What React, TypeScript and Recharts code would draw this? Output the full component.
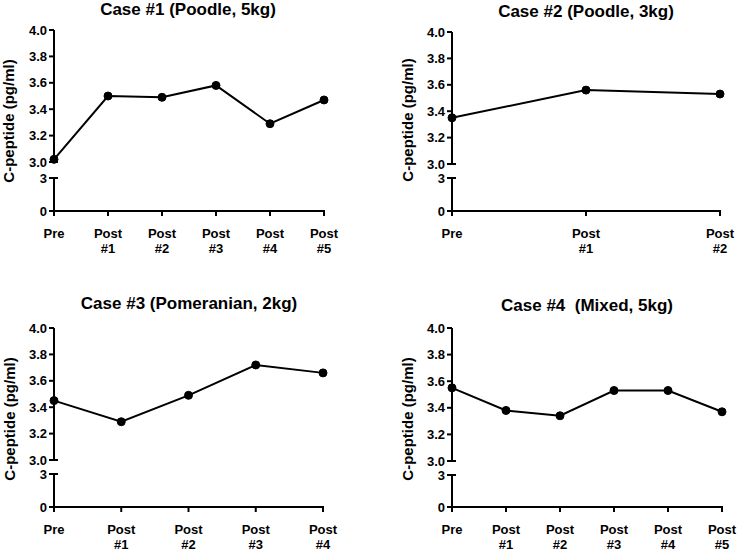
import React from "react";
import { LineChart, Line, XAxis, YAxis } from "recharts";

const labelsFive = ["Pre", "Post #1", "Post #2", "Post #3", "Post #4", "Post #5"];
const labelsTwo = ["Pre", "Post #1", "Post #2"];
const labelsFour = ["Pre", "Post #1", "Post #2", "Post #3", "Post #4"];

const case1Values = [3.02, 3.5, 3.49, 3.58, 3.29, 3.47];
const case2Values = [3.35, 3.56, 3.53];
const case3Values = [3.45, 3.29, 3.49, 3.72, 3.66];
const case4Values = [3.55, 3.38, 3.34, 3.53, 3.53, 3.37];

const upperTicks = [3.0, 3.2, 3.4, 3.6, 3.8, 4.0];
const lowerTicks = [0, 3];

const FONT = '"Liberation Sans", Arial, Helvetica, sans-serif';
const AXIS = { stroke: "#000", strokeWidth: 2 };

type Geo = {
  axisX: number;
  xEnd: number;
  top: number;
  brk: number;
  low: number;
  zero: number;
  titleX: number;
  titleY: number;
  labelX: number;
  labelY: number;
};

// y tick: label, outward tick, and a cross mark at the axis break
function YTick(props: any) {
  const { x, y, payload, brk, fmt } = props;
  const ax = x + 7;
  return (
    <g>
      <line
        x1={ax - 5}
        x2={payload.value === brk ? ax + 4 : ax}
        y1={y}
        y2={y}
        stroke="#000"
        strokeWidth={2}
      />
      <text
        x={x}
        y={y}
        dy="0.36em"
        textAnchor="end"
        fontFamily={FONT}
        fontWeight="bold"
        fontSize={13}
        fill="#000"
      >
        {fmt(payload.value)}
      </text>
    </g>
  );
}

function XTick(props: any) {
  const { x, y, payload } = props;
  const lines = String(payload.value).split(" ");
  return (
    <g>
      <line x1={x} x2={x} y1={y - 8} y2={y - 2} stroke="#000" strokeWidth={2} />
      <text
        x={x}
        y={y + 20}
        textAnchor="middle"
        fontFamily={FONT}
        fontWeight="bold"
        fontSize={13}
        fill="#000"
      >
        {lines.map((l, i) => (
          <tspan key={i} x={x} dy={i === 0 ? 0 : 15}>
            {l}
          </tspan>
        ))}
      </text>
    </g>
  );
}

function Panel({
  title,
  labels,
  values,
  g,
}: {
  title: string;
  labels: string[];
  values: number[];
  g: Geo;
}) {
  const data = labels.map((label, i) => ({ label, value: values[i] }));
  const w = g.xEnd - g.axisX + 70;
  return (
    <>
      <div
        style={{
          position: "absolute",
          left: g.titleX,
          top: g.titleY,
          transform: "translate(-50%, -50%)",
          whiteSpace: "pre",
          fontFamily: FONT,
          fontWeight: "bold",
          fontSize: 17,
          lineHeight: "20px",
        }}
      >
        {title}
      </div>
      <div
        style={{
          position: "absolute",
          left: g.labelX,
          top: g.labelY,
          transform: "translate(-50%, -50%) rotate(-90deg)",
          whiteSpace: "nowrap",
          fontFamily: FONT,
          fontWeight: "bold",
          fontSize: 15,
          lineHeight: "16px",
        }}
      >
        C-peptide (pg/ml)
      </div>
      <div style={{ position: "absolute", left: g.axisX - 50, top: g.top - 10 }}>
        <LineChart
          width={w}
          height={g.brk - g.top + 20}
          data={data}
          margin={{ top: 10, right: 20, bottom: 10, left: 0 }}
        >
          <XAxis dataKey="label" hide />
          <YAxis
            type="number"
            width={50}
            domain={[3, 4]}
            ticks={upperTicks}
            interval={0}
            axisLine={AXIS}
            tickLine={false}
            tickSize={5}
            tickMargin={2}
            tick={(p: any) => (
              <YTick {...p} brk={3} fmt={(v: number) => v.toFixed(1)} />
            )}
          />
          <Line
            dataKey="value"
            stroke="#000"
            strokeWidth={2}
            dot={{ r: 4, fill: "#000", stroke: "#000", strokeWidth: 1 }}
            activeDot={false}
            isAnimationActive={false}
          />
        </LineChart>
      </div>
      <div style={{ position: "absolute", left: g.axisX - 50, top: g.low - 10 }}>
        <LineChart
          width={w}
          height={g.zero - g.low + 55}
          data={data}
          margin={{ top: 10, right: 20, bottom: 0, left: 0 }}
        >
          <XAxis
            dataKey="label"
            height={45}
            interval={0}
            axisLine={AXIS}
            tickLine={false}
            tickSize={5}
            tickMargin={2}
            tick={(p: any) => <XTick {...p} />}
          />
          <YAxis
            type="number"
            width={50}
            domain={[0, 3]}
            ticks={lowerTicks}
            allowDataOverflow
            interval={0}
            axisLine={AXIS}
            tickLine={false}
            tickSize={5}
            tickMargin={2}
            tick={(p: any) => <YTick {...p} brk={3} fmt={(v: number) => String(v)} />}
          />
          {/* lower segment holds no marks: all values sit above the break */}
          <Line
            dataKey="value"
            stroke="none"
            dot={false}
            activeDot={false}
            isAnimationActive={false}
          />
        </LineChart>
      </div>
    </>
  );
}

export default function App() {
  return (
    <div
      style={{
        position: "absolute",
        left: 0,
        top: 0,
        width: 737,
        height: 552,
        overflow: "hidden",
        background: "#fff",
      }}
    >
      <Panel
        title="Case #1 (Poodle, 5kg)"
        labels={labelsFive}
        values={case1Values}
        g={{ axisX: 54, xEnd: 324, top: 30, brk: 162, low: 178, zero: 211, titleX: 188, titleY: 10, labelX: 9, labelY: 121 }}
      />
      <Panel
        title="Case #2 (Poodle, 3kg)"
        labels={labelsTwo}
        values={case2Values}
        g={{ axisX: 452, xEnd: 720, top: 32, brk: 164, low: 178, zero: 211, titleX: 586, titleY: 12, labelX: 408, labelY: 120 }}
      />
      <Panel
        title="Case #3 (Pomeranian, 2kg)"
        labels={labelsFour}
        values={case3Values}
        g={{ axisX: 54, xEnd: 323, top: 328, brk: 460, low: 474, zero: 507, titleX: 189, titleY: 304, labelX: 10, labelY: 419 }}
      />
      <Panel
        title="Case #4  (Mixed, 5kg)"
        labels={labelsFive}
        values={case4Values}
        g={{ axisX: 452, xEnd: 722, top: 328, brk: 461, low: 475, zero: 507, titleX: 587, titleY: 306, labelX: 408, labelY: 419 }}
      />
    </div>
  );
}
